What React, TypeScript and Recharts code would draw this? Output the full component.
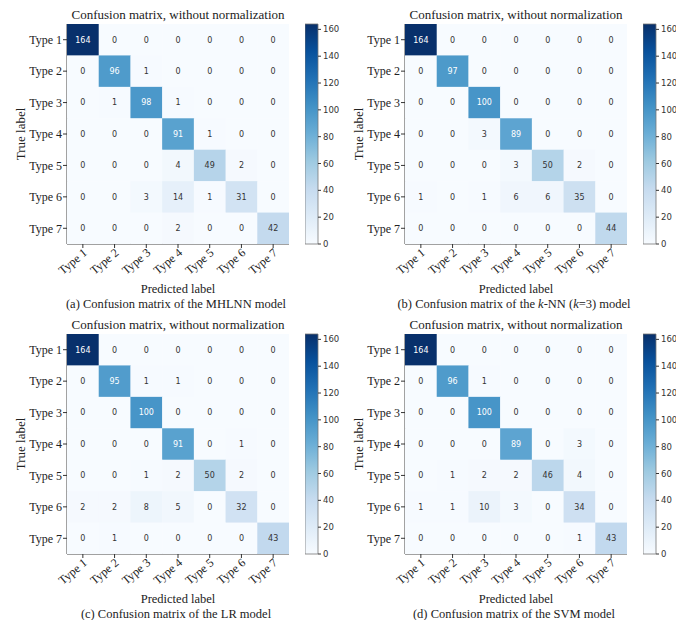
import React from "react";
import { ScatterChart, Scatter, XAxis, YAxis, BarChart, Bar } from "recharts";

const typeLabels = ["Type 1", "Type 2", "Type 3", "Type 4", "Type 5", "Type 6", "Type 7"];

const mhlnnMatrix = [
  [164, 0, 0, 0, 0, 0, 0],
  [0, 96, 1, 0, 0, 0, 0],
  [0, 1, 98, 1, 0, 0, 0],
  [0, 0, 0, 91, 1, 0, 0],
  [0, 0, 0, 4, 49, 2, 0],
  [0, 0, 3, 14, 1, 31, 0],
  [0, 0, 0, 2, 0, 0, 42],
];

const knnMatrix = [
  [164, 0, 0, 0, 0, 0, 0],
  [0, 97, 0, 0, 0, 0, 0],
  [0, 0, 100, 0, 0, 0, 0],
  [0, 0, 3, 89, 0, 0, 0],
  [0, 0, 0, 3, 50, 2, 0],
  [1, 0, 1, 6, 6, 35, 0],
  [0, 0, 0, 0, 0, 0, 44],
];

const lrMatrix = [
  [164, 0, 0, 0, 0, 0, 0],
  [0, 95, 1, 1, 0, 0, 0],
  [0, 0, 100, 0, 0, 0, 0],
  [0, 0, 0, 91, 0, 1, 0],
  [0, 0, 1, 2, 50, 2, 0],
  [2, 2, 8, 5, 0, 32, 0],
  [0, 1, 0, 0, 0, 0, 43],
];

const svmMatrix = [
  [164, 0, 0, 0, 0, 0, 0],
  [0, 96, 1, 0, 0, 0, 0],
  [0, 0, 100, 0, 0, 0, 0],
  [0, 0, 0, 89, 0, 3, 0],
  [0, 1, 2, 2, 46, 4, 0],
  [1, 1, 10, 3, 0, 34, 0],
  [0, 0, 0, 0, 0, 1, 43],
];

const colorbarTicks = [0, 20, 40, 60, 80, 100, 120, 140, 160];

// matplotlib "Blues"
const blues = ["#f7fbff", "#deebf7", "#c6dbef", "#9ecae1", "#6baed6", "#4292c6", "#2171b5", "#08519c", "#08306b"];

const SERIF = "'Liberation Serif', 'Times New Roman', serif";
const SANS = "'DejaVu Sans', sans-serif";

const CHART_W = 300;
const CHART_H = 310;
const PLOT_LEFT = 67;
const PLOT_TOP = 24;
const PLOT_W = 222;
const PLOT_H = 220;
const CELL_W = PLOT_W / 7;
const CELL_H = PLOT_H / 7;

function hexToRgb(h: string) {
  const n = parseInt(h.slice(1), 16);
  return [(n >> 16) & 255, (n >> 8) & 255, n & 255];
}

function bluesColor(t: number) {
  const c = Math.max(0, Math.min(1, t)) * (blues.length - 1);
  const i = Math.min(blues.length - 2, Math.floor(c));
  const f = c - i;
  const a = hexToRgb(blues[i]);
  const b = hexToRgb(blues[i + 1]);
  const m = a.map((v, k) => Math.round(v + (b[k] - v) * f));
  return `rgb(${m[0]},${m[1]},${m[2]})`;
}

function toCells(matrix: number[][]) {
  const out: { x: number; y: number; v: number }[] = [];
  matrix.forEach((row, r) => row.forEach((v, c) => out.push({ x: c, y: r, v })));
  return out;
}

function XTick({ x, y, payload }: any) {
  return (
    <g transform={`translate(${x + 5},${y + 4})`}>
      <text transform="rotate(-40)" textAnchor="end" fontFamily={SERIF} fontSize={12} fill="#222">
        {typeLabels[payload.value]}
      </text>
    </g>
  );
}

function CellShape(vmax: number) {
  return (props: any) => {
    const { cx, cy, payload } = props;
    const v = payload.v;
    return (
      <g>
        <rect x={cx - CELL_W / 2} y={cy - CELL_H / 2} width={CELL_W + 0.4} height={CELL_H + 0.4} fill={bluesColor(v / vmax)} />
        <text x={cx} y={cy} dy="0.35em" textAnchor="middle" fontFamily={SANS} fontSize={8} fill={v > vmax / 2 ? "#ffffff" : "#333"}>
          {v}
        </text>
      </g>
    );
  };
}

function Panel({ id, matrix, left, top, caption }: { id: string; matrix: number[][]; left: number; top: number; caption: React.ReactNode }) {
  const cells = toCells(matrix);
  const vmax = Math.max(...matrix.flat());
  const textStyle: React.CSSProperties = {
    position: "absolute",
    fontFamily: SERIF,
    color: "#222",
    whiteSpace: "nowrap",
    lineHeight: "1",
    transform: "translate(-50%, -50%)",
  };
  return (
    <div style={{ position: "absolute", left, top, width: 338, height: 310 }}>
      <div style={{ ...textStyle, left: 178, top: 14, fontSize: 13 }}>Confusion matrix, without normalization</div>
      <div style={{ ...textStyle, left: 20, top: 134, fontSize: 13, transform: "translate(-50%, -50%) rotate(-90deg)" }}>True label</div>
      <div style={{ ...textStyle, left: 178, top: 289, fontSize: 12.5 }}>Predicted label</div>
      <div style={{ ...textStyle, left: 176, top: 303.5, fontSize: 12.5 }}>{caption}</div>

      <div style={{ position: "absolute", left: 0, top: 0 }}>
        <ScatterChart
          width={CHART_W}
          height={CHART_H}
          margin={{ top: PLOT_TOP, left: PLOT_LEFT - 60, right: CHART_W - PLOT_LEFT - PLOT_W, bottom: CHART_H - PLOT_TOP - PLOT_H - 40 }}
        >
          <Scatter data={cells} dataKey="v" shape={CellShape(vmax)} isAnimationActive={false} />
          <XAxis
            type="number"
            dataKey="x"
            domain={[-0.5, 6.5]}
            ticks={[0, 1, 2, 3, 4, 5, 6]}
            allowDataOverflow
            height={40}
            tick={<XTick />}
            tickSize={4}
            tickLine={{ stroke: "#333" }}
            axisLine={{ stroke: "#444" }}
          />
          <YAxis
            type="number"
            dataKey="y"
            domain={[-0.5, 6.5]}
            ticks={[0, 1, 2, 3, 4, 5, 6]}
            reversed
            allowDataOverflow
            width={60}
            tickFormatter={(v: number) => typeLabels[v]}
            tick={{ fontFamily: SERIF, fontSize: 12, fill: "#222" }}
            tickSize={4}
            tickMargin={1}
            tickLine={{ stroke: "#333" }}
            axisLine={{ stroke: "#444" }}
          />
          <XAxis xAxisId="top" orientation="top" type="number" domain={[-0.5, 6.5]} height={0} tick={false} tickLine={false} axisLine={{ stroke: "#444" }} />
          <YAxis yAxisId="right" orientation="right" type="number" domain={[-0.5, 6.5]} width={0} tick={false} tickLine={false} axisLine={{ stroke: "#444" }} />
        </ScatterChart>
      </div>

      <div style={{ position: "absolute", left: 305, top: 0 }}>
        <BarChart
          width={45}
          height={CHART_H}
          data={[{ name: "cb", v: vmax }]}
          margin={{ top: PLOT_TOP, left: 0, right: 0, bottom: CHART_H - PLOT_TOP - PLOT_H }}
          barCategoryGap={0}
        >
          <defs>
            <linearGradient id={`blues-${id}`} x1="0" y1="1" x2="0" y2="0">
              {blues.map((c, i) => (
                <stop key={i} offset={i / (blues.length - 1)} stopColor={c} />
              ))}
            </linearGradient>
          </defs>
          <XAxis dataKey="name" hide />
          <YAxis
            orientation="right"
            domain={[0, vmax]}
            ticks={colorbarTicks}
            width={32}
            tickSize={3}
            tickMargin={2}
            axisLine={false}
            tickLine={{ stroke: "#333" }}
            tick={{ fontFamily: SANS, fontSize: 8.5, fill: "#333", textAnchor: "start" }}
          />
          <Bar dataKey="v" fill={`url(#blues-${id})`} stroke="#777" strokeWidth={0.8} isAnimationActive={false} />
        </BarChart>
      </div>
    </div>
  );
}

export default function App() {
  return (
    <div style={{ position: "absolute", left: 0, top: 0, width: 676, height: 620, background: "#fff", overflow: "hidden" }}>
      <Panel id="a" matrix={mhlnnMatrix} left={0} top={0} caption="(a) Confusion matrix of the MHLNN model" />
      <Panel
        id="b"
        matrix={knnMatrix}
        left={338}
        top={0}
        caption={
          <span>
            (b) Confusion matrix of the <i>k</i>-NN (<i>k</i>=3) model
          </span>
        }
      />
      <Panel id="c" matrix={lrMatrix} left={0} top={310} caption="(c) Confusion matrix of the LR model" />
      <Panel id="d" matrix={svmMatrix} left={338} top={310} caption="(d) Confusion matrix of the SVM model" />
    </div>
  );
}
